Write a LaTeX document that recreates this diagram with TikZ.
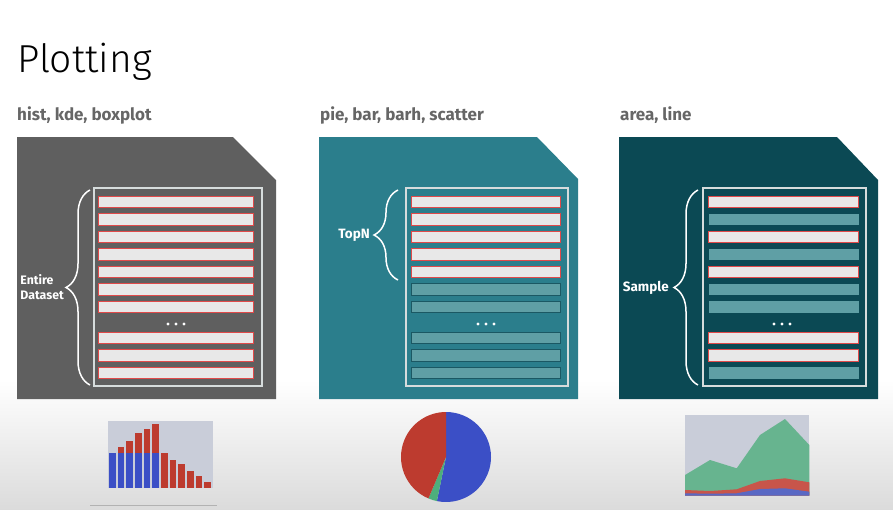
\documentclass[tikz,border=0pt]{standalone}
\usepackage{fontspec}
\setmainfont{Fira Sans}
\newfontfamily\titlefont{Fira Sans Light}
\usetikzlibrary{decorations.pathreplacing}
\definecolor{panelgray}{HTML}{5F5F5F}
\definecolor{panelteal}{HTML}{2B7E8C}
\definecolor{paneldark}{HTML}{0B4954}
\definecolor{rowlight}{HTML}{E8E8E8}
\definecolor{rowred}{HTML}{E04A4A}
\definecolor{rowteal}{HTML}{5F9FA5}
\definecolor{rowedge}{HTML}{1B5863}
\definecolor{framegray}{HTML}{D6DCDC}
\definecolor{headgray}{HTML}{666666}
\definecolor{plotbg}{HTML}{C9CDD9}
\definecolor{histblue}{HTML}{3B4FC6}
\definecolor{histred}{HTML}{BD3B2F}
\definecolor{piegreen}{HTML}{4DAF7C}
\definecolor{areagreen}{HTML}{67B48F}
\definecolor{areared}{HTML}{C8554A}
\definecolor{areablue}{HTML}{5968C4}
\tikzset{
lightrow/.style={rectangle, fill=rowlight, draw=rowred, line width=1.2pt, minimum width=155pt, minimum height=11.5pt, inner sep=0pt},
tealrow/.style={rectangle, fill=rowteal, draw=rowedge, line width=1pt, minimum width=155pt, minimum height=11.5pt, inner sep=0pt},
rowframe/.style={draw=framegray, line width=2pt},
curly/.style={draw=white, line width=1.5pt, decorate, decoration={brace, amplitude=24pt}},
bracelbl/.style={text=white, font=\bfseries\fontsize{13.5}{15}\selectfont, align=left, anchor=east, inner sep=0pt},
header/.style={text=headgray, font=\bfseries\fontsize{17}{19}\selectfont, anchor=base west, inner sep=0pt},
dotmark/.style={circle, fill=white, minimum size=3.2pt, inner sep=0pt}
}
\begin{document}
\begin{tikzpicture}[x=1pt,y=-1pt]
\useasboundingbox (0,0) rectangle (893,509);
\fill[white] (0,0) rectangle (893,509);
\shade[top color=white, bottom color=black!14] (0,380) rectangle (893,509);
\node[anchor=base west, inner sep=0pt, font=\titlefont\fontsize{39}{44}\selectfont, text=black] (title) at (17,72) {Plotting};
\node[header] (head1) at (17,120) {hist, kde, boxplot};
\node[header] (head2) at (320,120) {pie, bar, barh, scatter};
\node[header] (head3) at (620,120) {area, line};
% panel 1
\fill[panelgray] (17,137) -- (233,137) -- (276,180) -- (276,399) -- (17,399) -- cycle;
\draw[rowframe] (94,188) rectangle (262,386);
\node[lightrow, minimum width=155pt] (r1a) at (176,202){};
\node[lightrow, minimum width=155pt] (r1b) at (176,219.5){};
\node[lightrow, minimum width=155pt] (r1c) at (176,237){};
\node[lightrow, minimum width=155pt] (r1d) at (176,254.5){};
\node[lightrow, minimum width=155pt] (r1e) at (176,272){};
\node[lightrow, minimum width=155pt] (r1f) at (176,289.5){};
\node[lightrow, minimum width=155pt] (r1g) at (176,307){};
\node[dotmark] (d1a) at (168,324){};
\node[dotmark] (d1b) at (176,324){};
\node[dotmark] (d1c) at (184,324){};
\node[lightrow, minimum width=155pt] (r1h) at (176,338){};
\node[lightrow, minimum width=155pt] (r1i) at (176,355.5){};
\node[lightrow, minimum width=155pt] (r1j) at (176,373){};
\coordinate (b1top) at (90,190);
\coordinate (b1bot) at (90,385);
\draw[curly] (b1bot) -- (b1top);
\node[bracelbl, font=\bfseries\fontsize{12.3}{15}\selectfont] (lbl1) at (64,287.5) {Entire\\Dataset};
% panel 2
\fill[panelteal] (319,137) -- (537,137) -- (578,179) -- (578,399) -- (319,399) -- cycle;
\draw[rowframe] (406,188) rectangle (568,386);
\node[lightrow, minimum width=149pt] (r2a) at (486,202){};
\node[lightrow, minimum width=149pt] (r2b) at (486,219.5){};
\node[lightrow, minimum width=149pt] (r2c) at (486,237){};
\node[lightrow, minimum width=149pt] (r2d) at (486,254.5){};
\node[lightrow, minimum width=149pt] (r2e) at (486,272){};
\node[tealrow, minimum width=149pt] (r2f) at (486,289.5){};
\node[tealrow, minimum width=149pt] (r2g) at (486,307){};
\node[dotmark] (d2a) at (478,324){};
\node[dotmark] (d2b) at (486,324){};
\node[dotmark] (d2c) at (494,324){};
\node[tealrow, minimum width=149pt] (r2h) at (486,338){};
\node[tealrow, minimum width=149pt] (r2i) at (486,355.5){};
\node[tealrow, minimum width=149pt] (r2j) at (486,373){};
\coordinate (b2top) at (398,190);
\coordinate (b2bot) at (398,280);
\draw[curly] (b2bot) -- (b2top);
\node[bracelbl] (lbl2) at (370,235) {TopN};
% panel 3
\fill[paneldark] (619,137) -- (837,137) -- (878,180) -- (878,399) -- (619,399) -- cycle;
\draw[rowframe] (703,188) rectangle (866,386);
\node[lightrow, minimum width=150pt] (r3a) at (783.5,202){};
\node[tealrow, minimum width=150pt, draw=none] (r3b) at (783.5,219.5){};
\node[lightrow, minimum width=150pt] (r3c) at (783.5,237){};
\node[tealrow, minimum width=150pt, draw=none] (r3d) at (783.5,254.5){};
\node[lightrow, minimum width=150pt] (r3e) at (783.5,272){};
\node[tealrow, minimum width=150pt, draw=none] (r3f) at (783.5,289.5){};
\node[tealrow, minimum width=150pt, draw=none] (r3g) at (783.5,307){};
\node[dotmark] (d3a) at (774,324){};
\node[dotmark] (d3b) at (782,324){};
\node[dotmark] (d3c) at (790,324){};
\node[lightrow, minimum width=150pt] (r3h) at (783.5,338){};
\node[lightrow, minimum width=150pt] (r3i) at (783.5,355.5){};
\node[tealrow, minimum width=150pt, draw=none] (r3j) at (783.5,373){};
\coordinate (b3top) at (698,190);
\coordinate (b3bot) at (698,385);
\draw[curly] (b3bot) -- (b3top);
\node[bracelbl] (lbl3) at (669,288) {Sample};
% histogram
\fill[plotbg] (108,421) rectangle (213,487.7);
\foreach \i/\h in {1/446.7,2/441,3/433.3,4/429,5/424,6/453.3,7/460,8/464.3,9/470.7,10/476,11/482.3}
  \fill[histred] ({109+8.67*\i},\h) rectangle ++(6.5,{487.7-\h});
\foreach \i in {0,...,5}
  \fill[histblue] ({109+8.67*\i},452.7) rectangle ++(6.5,35);
\draw[black!30, line width=0.6pt] (90,505) -- (217,505);
% pie
\begin{scope}[shift={(446,457)}, y=1pt]
\fill[histblue] (0,0) -- (90:45) arc[start angle=90, end angle=-101.7, radius=45] -- cycle;
\fill[piegreen] (0,0) -- (-101.7:45) arc[start angle=-101.7, end angle=-113, radius=45] -- cycle;
\fill[histred] (0,0) -- (-113:45) arc[start angle=-113, end angle=-270, radius=45] -- cycle;
\end{scope}
% area chart
\fill[plotbg] (685,415) rectangle (809.3,495.7);
\fill[areagreen] (685,495.7) -- (685,475) -- (710,460) -- (736.7,468.3) -- (760,435) -- (785,419) -- (809.3,445) -- (809.3,495.7) -- cycle;
\fill[areared] (685,495.7) -- (685,490) -- (710,491) -- (736.7,489.3) -- (760,481) -- (785,478.3) -- (809.3,482.3) -- (809.3,495.7) -- cycle;
\fill[areablue] (685,495.7) -- (685,493.3) -- (710,493.7) -- (736.7,493.3) -- (760,489) -- (785,488.3) -- (809.3,491.7) -- (809.3,495.7) -- cycle;
\end{tikzpicture}
\end{document}
